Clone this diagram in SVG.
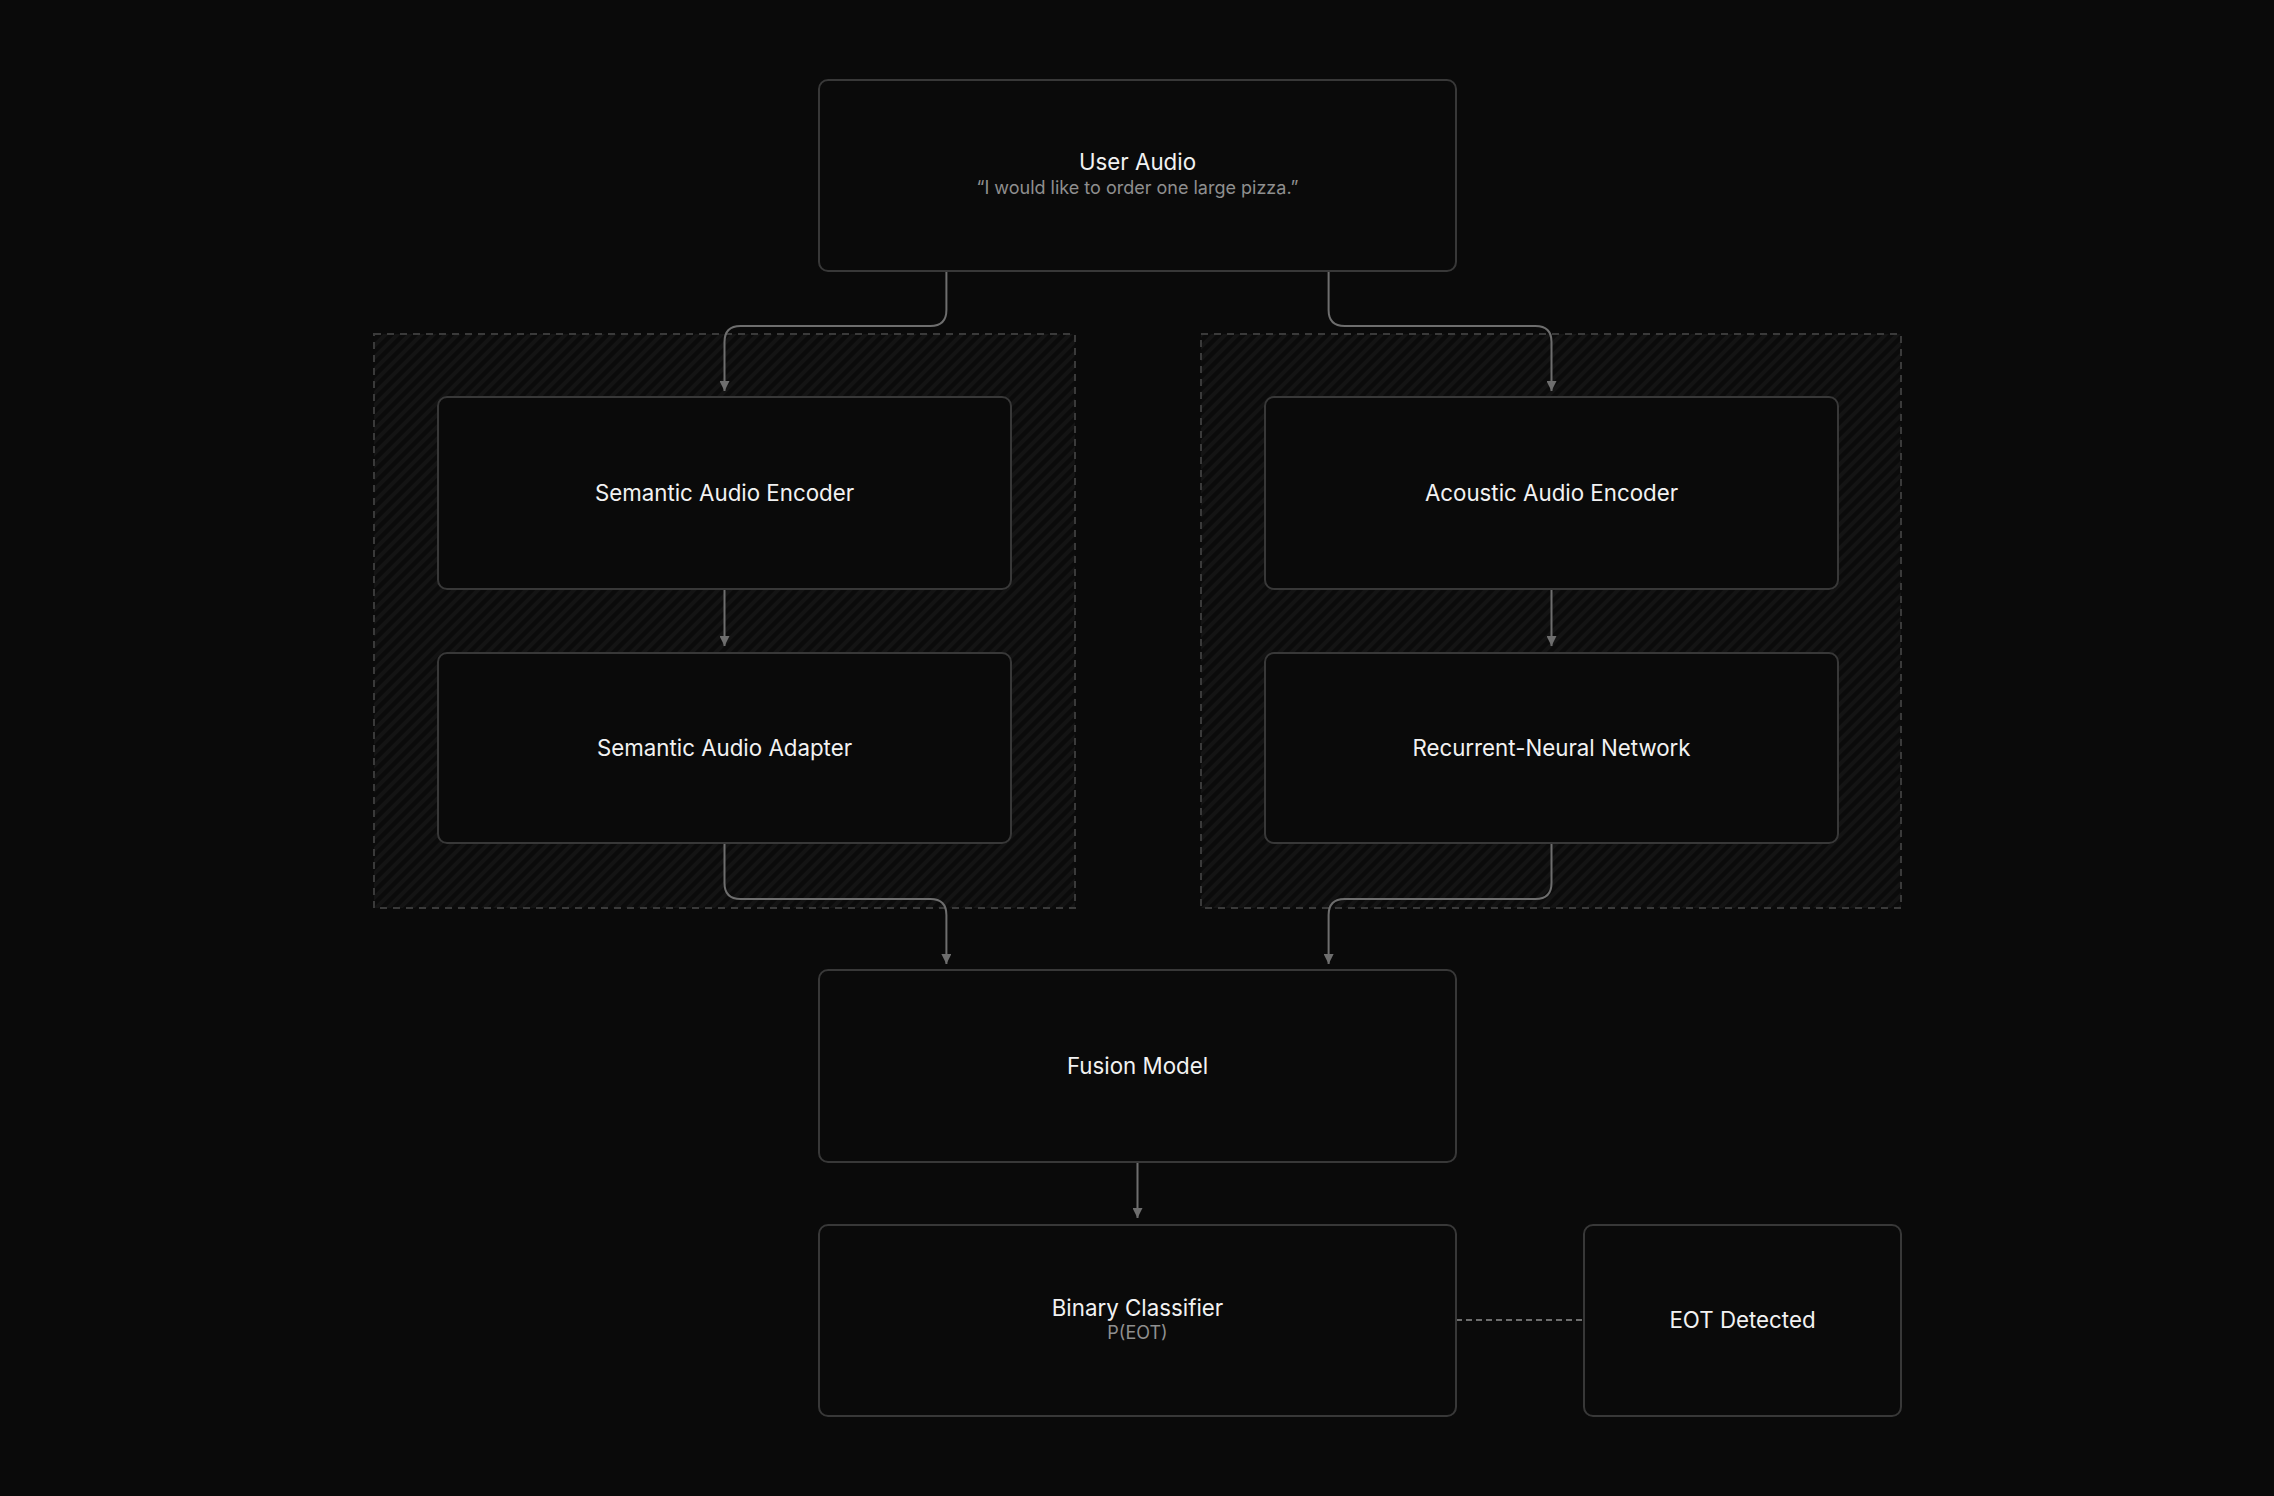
<svg xmlns="http://www.w3.org/2000/svg" width="2274" height="1496" viewBox="0 0 2274 1496">
<style>
.node rect{fill:#0a0a0a;stroke:#383838;stroke-width:2}
.grp{fill:url(#hatch);stroke:#3a3a3a;stroke-width:2;stroke-dasharray:7 6}
.t{font-family:Inter,"Liberation Sans",sans-serif;font-size:22.3px;fill:#f2f2f2;text-anchor:middle}
.s{font-family:Inter,"Liberation Sans",sans-serif;font-size:18px;fill:#8f8f8f;text-anchor:middle}
.conn path{fill:none;stroke:#6e6e6e;stroke-width:2}
.conn .dash{stroke-dasharray:6 4}
</style>
<defs>
<pattern id="hatch" patternUnits="userSpaceOnUse" width="12" height="12">
<rect width="12" height="12" fill="#0b0b0b"/>
<path d="M-3 3L3 -3M0 12L12 0M9 15L15 9" stroke="#141414" stroke-width="4"/>
</pattern>
<marker id="arr" viewBox="0 0 10 10" refX="10" refY="5" markerWidth="10" markerHeight="10" markerUnits="userSpaceOnUse" orient="auto">
<path d="M0 0L10 5L0 10z" fill="#6e6e6e"/>
</marker>
</defs>
<rect width="2274" height="1496" fill="#0a0a0a"/>
<g id="group-semantic"><rect class="grp" x="374" y="334" width="701" height="574"/></g>
<g id="group-acoustic"><rect class="grp" x="1201" y="334" width="700" height="574"/></g>
<g class="conn" id="connectors">
<path d="M946.4 271V310Q946.4 326 930.4 326H740.5Q724.5 326 724.5 342V391" marker-end="url(#arr)"/>
<path d="M1328.6 271V310Q1328.6 326 1344.6 326H1535.5Q1551.5 326 1551.5 342V391" marker-end="url(#arr)"/>
<path d="M724.5 589V646" marker-end="url(#arr)"/>
<path d="M1551.5 589V646" marker-end="url(#arr)"/>
<path d="M724.5 843V883Q724.5 899 740.5 899H930.4Q946.4 899 946.4 915V964" marker-end="url(#arr)"/>
<path d="M1551.5 843V883Q1551.5 899 1535.5 899H1344.6Q1328.6 899 1328.6 915V964" marker-end="url(#arr)"/>
<path d="M1137.5 1162V1218" marker-end="url(#arr)"/>
<path class="dash" d="M1456 1320H1584"/>
</g>
<g id="user-audio" class="node"><rect x="819" y="80" width="637" height="191" rx="9"/><text class="t" x="1137.5" y="170">User Audio</text><text class="s" x="1137.5" y="194">“I would like to order one large pizza.”</text></g>
<g id="semantic-encoder" class="node"><rect x="438" y="397" width="573" height="192" rx="9"/><text class="t" x="724.5" y="501">Semantic Audio Encoder</text></g>
<g id="semantic-adapter" class="node"><rect x="438" y="653" width="573" height="190" rx="9"/><text class="t" x="724.5" y="756">Semantic Audio Adapter</text></g>
<g id="acoustic-encoder" class="node"><rect x="1265" y="397" width="573" height="192" rx="9"/><text class="t" x="1551.5" y="501">Acoustic Audio Encoder</text></g>
<g id="rnn" class="node"><rect x="1265" y="653" width="573" height="190" rx="9"/><text class="t" x="1551.5" y="756">Recurrent-Neural Network</text></g>
<g id="fusion" class="node"><rect x="819" y="970" width="637" height="192" rx="9"/><text class="t" x="1137.5" y="1074">Fusion Model</text></g>
<g id="binary" class="node"><rect x="819" y="1225" width="637" height="191" rx="9"/><text class="t" x="1137.5" y="1316">Binary Classifier</text><text class="s" x="1137.5" y="1339">P(EOT)</text></g>
<g id="eot" class="node"><rect x="1584" y="1225" width="317" height="191" rx="9"/><text class="t" x="1742.5" y="1328">EOT Detected</text></g>
</svg>
